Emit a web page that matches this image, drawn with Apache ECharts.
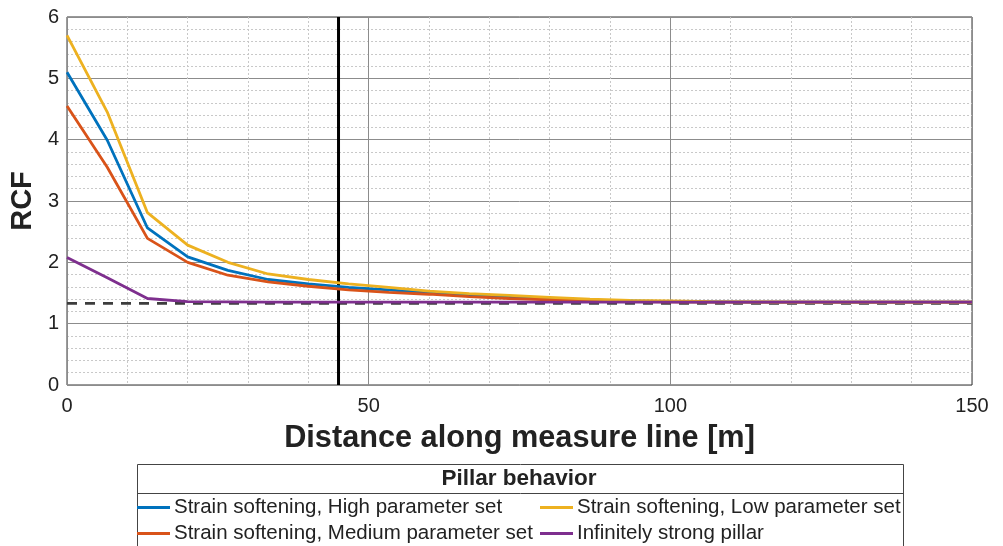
<!DOCTYPE html>
<html>
<head>
<meta charset="utf-8">
<script src="https://cdn.jsdelivr.net/npm/echarts@6/dist/echarts.min.js"></script>
<style>
html,body{margin:0;padding:0;background:#fff;}
#chart{width:1003px;height:546px;}
</style>
</head>
<body>
<div id="chart"></div>
<script>
// ---- data ----
var distance = [0, 6.67, 13.33, 20, 26.67, 33.33, 40, 46.67, 53.33, 60, 66.67, 73.33, 80, 86.67, 93.33, 100, 106.67, 113.33, 120, 126.67, 133.33, 140, 146.67, 150];
var highSet   = [5.10, 3.99, 2.56, 2.09, 1.87, 1.72, 1.65, 1.59, 1.55, 1.50, 1.46, 1.43, 1.40, 1.38, 1.37, 1.36, 1.355, 1.35, 1.35, 1.35, 1.35, 1.35, 1.35, 1.35];
var mediumSet = [4.55, 3.55, 2.39, 2.00, 1.79, 1.68, 1.61, 1.55, 1.51, 1.48, 1.44, 1.41, 1.39, 1.37, 1.36, 1.355, 1.35, 1.35, 1.35, 1.35, 1.35, 1.35, 1.35, 1.35];
var lowSet    = [5.70, 4.45, 2.81, 2.28, 2.00, 1.81, 1.72, 1.65, 1.59, 1.53, 1.49, 1.46, 1.43, 1.40, 1.38, 1.37, 1.36, 1.355, 1.35, 1.35, 1.35, 1.35, 1.35, 1.35];
var strongPillar = [2.08, 1.75, 1.41, 1.36, 1.355, 1.35, 1.35, 1.35, 1.35, 1.35, 1.35, 1.35, 1.35, 1.35, 1.35, 1.35, 1.35, 1.35, 1.35, 1.35, 1.35, 1.35, 1.35, 1.35];
var seriesNames = ['Strain softening, High parameter set', 'Strain softening, Medium parameter set', 'Strain softening, Low parameter set', 'Infinitely strong pillar'];
var seriesColors = ['#0072BD', '#D95319', '#EDB120', '#7E2F8E'];
var referenceLevel = 1.33;   // dashed horizontal line
var markerDistance = 45;     // thick vertical line
var xTicks = [0, 50, 100, 150];
var yTicks = [0, 1, 2, 3, 4, 5, 6];
var legendTitle = 'Pillar behavior';

function pairs(xs, ys) { return xs.map(function (x, i) { return [x, ys[i]]; }); }

var FONT = '"Liberation Sans", Arial, sans-serif';
var chart = echarts.init(document.getElementById('chart'), null, {renderer: 'canvas'});

var lineSeries = [highSet, mediumSet, lowSet, strongPillar].map(function (vals, i) {
  return {
    name: seriesNames[i], type: 'line', data: pairs(distance, vals),
    showSymbol: false, symbol: 'none', z: 5 + i,
    lineStyle: {color: seriesColors[i], width: 2.8},
    itemStyle: {color: seriesColors[i]}
  };
});

var legendText = {fontFamily: FONT, fontSize: 20.5, color: '#222', lineHeight: 20, padding: [0, 0, 0, -1]};

var option = {
  animation: false,
  backgroundColor: '#fff',
  grid: {left: 65, right: 31, top: 17, bottom: 161, show: true, borderColor: '#333', borderWidth: 1, backgroundColor: '#fff'},
  xAxis: {
    type: 'value', min: xTicks[0], max: xTicks[xTicks.length - 1], interval: 50,
    name: 'Distance along measure line [m]', nameLocation: 'middle', nameGap: 38,
    nameTextStyle: {fontFamily: FONT, fontWeight: 'bold', fontSize: 30.7, color: '#222'},
    axisLine: {show: false}, axisTick: {show: false},
    axisLabel: {fontFamily: FONT, fontSize: 20, color: '#222', margin: 11},
    splitLine: {show: true, lineStyle: {color: '#8c8c8c', width: 1}},
    minorTick: {show: false, splitNumber: 5},
    minorSplitLine: {show: true, lineStyle: {color: '#c8c8c8', width: 1, type: [2, 2]}}
  },
  yAxis: {
    type: 'value', min: yTicks[0], max: yTicks[yTicks.length - 1], interval: 1,
    name: 'RCF', nameLocation: 'middle', nameGap: 24, nameRotate: 90,
    nameTextStyle: {fontFamily: FONT, fontWeight: 'bold', fontSize: 29, color: '#222'},
    axisLine: {show: false}, axisTick: {show: false},
    axisLabel: {fontFamily: FONT, fontSize: 20, color: '#222', margin: 8},
    splitLine: {show: true, lineStyle: {color: '#8c8c8c', width: 1}},
    minorTick: {show: false, splitNumber: 5},
    minorSplitLine: {show: true, lineStyle: {color: '#c8c8c8', width: 1, type: [2, 2]}}
  },
  legend: [
    {
      data: [seriesNames[0], seriesNames[1]], orient: 'vertical', left: 137, top: 497,
      icon: 'rect', itemWidth: 33, itemHeight: 3, itemGap: 5, padding: 0,
      textStyle: legendText
    },
    {
      data: [seriesNames[2], seriesNames[3]], orient: 'vertical', left: 540, top: 497,
      icon: 'rect', itemWidth: 33, itemHeight: 3, itemGap: 5, padding: 0,
      textStyle: legendText
    }
  ],
  graphic: [
    {type: 'rect', shape: {x: 137.5, y: 464.5, width: 766, height: 100}, style: {fill: '#fff', stroke: '#444', lineWidth: 1}, z: -1},
    {type: 'line', shape: {x1: 137.5, y1: 493.5, x2: 903.5, y2: 493.5}, style: {stroke: '#444', lineWidth: 1}},
    {type: 'text', x: 519, y: 479, style: {text: legendTitle, fontFamily: FONT, fontWeight: 'bold', fontSize: 22.5, fill: '#222', textAlign: 'center', textVerticalAlign: 'middle'}}
  ],
  series: [
    {
      name: 'reference', type: 'line', data: [[xTicks[0], referenceLevel], [xTicks[xTicks.length - 1], referenceLevel]],
      showSymbol: false, symbol: 'none', z: 3, silent: true,
      lineStyle: {color: '#3d3d3d', width: 2.8, type: [10, 8]}
    },
    {
      name: 'marker', type: 'line', data: [[markerDistance, yTicks[0]], [markerDistance, yTicks[yTicks.length - 1]]],
      showSymbol: false, symbol: 'none', z: 4, silent: true,
      lineStyle: {color: '#000', width: 3}
    }
  ].concat(lineSeries)
};
chart.setOption(option);
</script>
</body>
</html>
